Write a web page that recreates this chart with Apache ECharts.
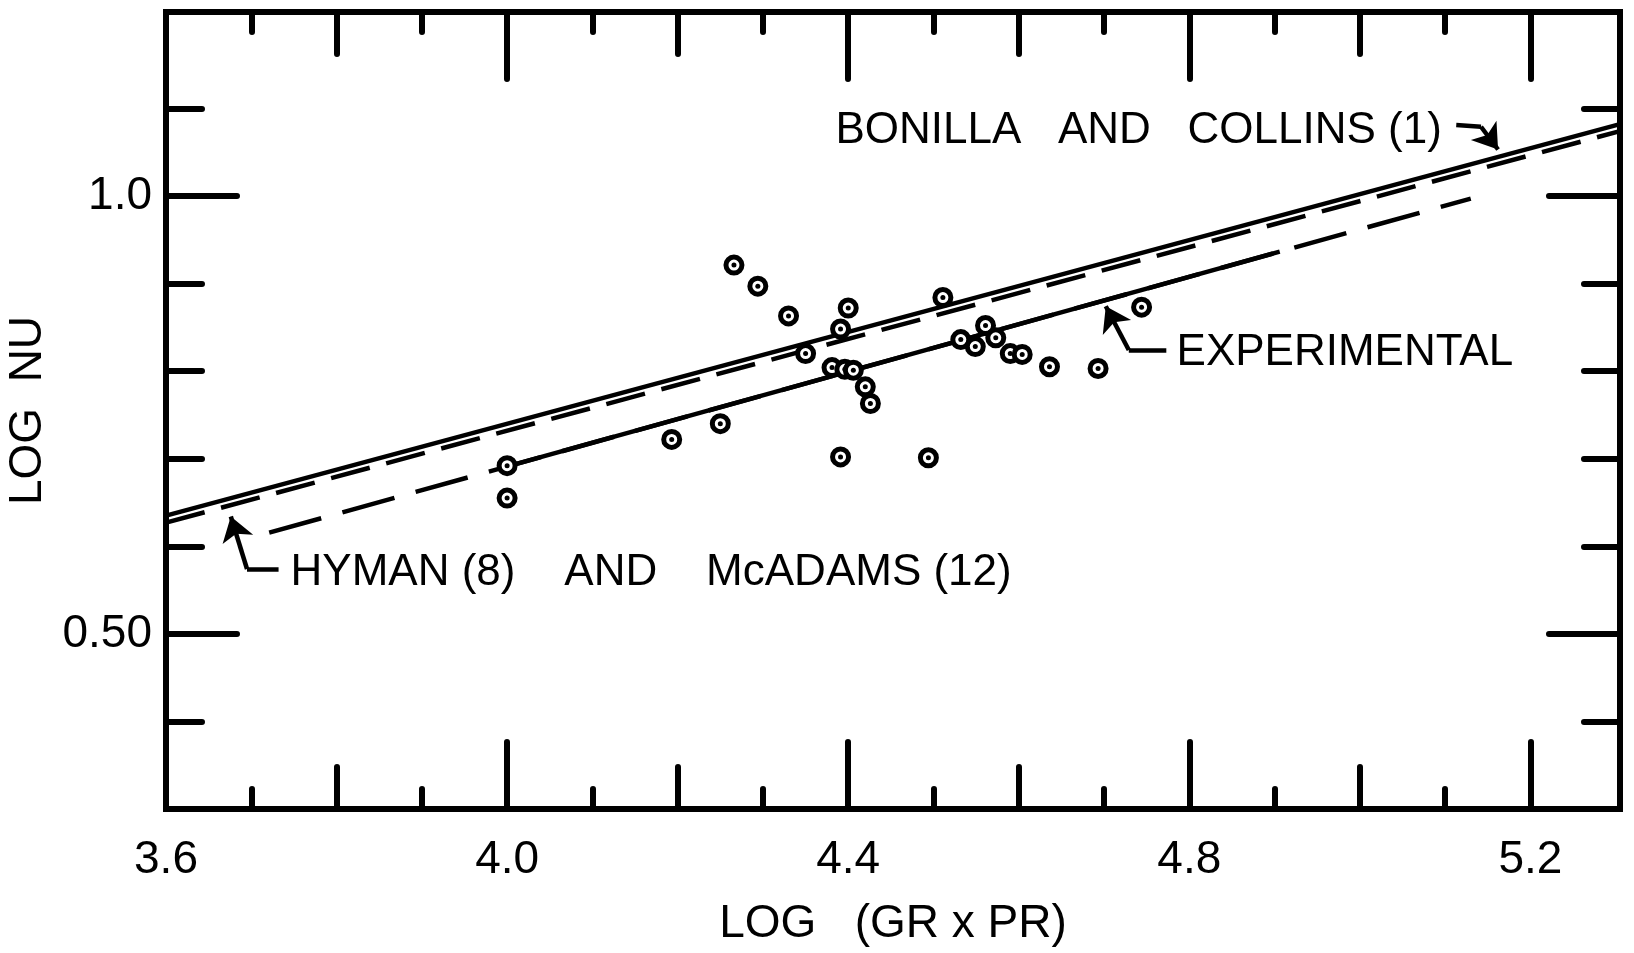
<!DOCTYPE html>
<html>
<head>
<meta charset="utf-8">
<script src="https://cdn.jsdelivr.net/npm/echarts@6/dist/echarts.min.js"></script>
<style>
html,body{margin:0;padding:0;background:#fff;}
#chart{width:1634px;height:953px;}
</style>
</head>
<body>
<div id="chart"></div>
<script>
// ---------- data ----------
const xMin = 3.6, xMax = 5.305;
const yMin = 0.3, yMax = 1.21;

const xLabelValues = [3.6, 4.0, 4.4, 4.8, 5.2];
const xLabelTexts  = ['3.6', '4.0', '4.4', '4.8', '5.2'];
const xLongTicks   = [4.0, 4.4, 4.8, 5.2];
const xMediumTicks = [3.8, 4.2, 4.6, 5.0];
const xShortTicks  = [3.7, 3.9, 4.1, 4.3, 4.5, 4.7, 4.9, 5.1];

const yLabelValues = [0.5, 1.0];
const yLabelTexts  = ['0.50', '1.0'];
const yLongTicks   = [0.5, 1.0];
const yShortTicks  = [0.4, 0.6, 0.7, 0.8, 0.9, 1.1];

const xTitle = 'LOG   (GR x PR)';
const yTitle = 'LOG  NU';

// measured points: [log(Gr*Pr), log Nu]
const experimentalPoints = [
  [4.266,0.921],[4.294,0.897],[4.330,0.863],[4.400,0.872],[4.391,0.848],
  [4.350,0.820],[4.381,0.804],[4.396,0.802],[4.406,0.801],[4.420,0.782],
  [4.426,0.763],[4.391,0.702],[4.494,0.701],[4.511,0.884],[4.532,0.836],
  [4.561,0.852],[4.549,0.828],[4.573,0.838],[4.590,0.820],[4.604,0.819],
  [4.636,0.805],[4.693,0.803],[4.744,0.873],[4.250,0.740],[4.193,0.722],
  [4.000,0.692],[4.000,0.655]
];

// correlation lines (end points)
const bonillaCollins   = [[3.6, 0.635], [5.305, 1.082]];
const hymanMcAdams     = [[3.6, 0.627], [5.305, 1.074]];
const experimentalExt  = [[3.721, 0.6155], [5.13, 0.997]];
const experimentalFit  = [[3.995, 0.6897], [4.906, 0.9364]];

// annotations
const annotationTexts   = ['BONILLA   AND   COLLINS (1)', 'EXPERIMENTAL', 'HYMAN (8)    AND    McADAMS (12)'];
const annotationAnchors = [[4.385, 1.0745], [4.785, 0.821], [3.746, 0.570]];
const arrowPaths = [
  [[5.113, 1.081], [5.142, 1.079], [5.162, 1.053]],
  [[4.773, 0.824], [4.729, 0.824], [4.702, 0.874]],
  [[3.732, 0.574], [3.695, 0.574], [3.676, 0.634]]
];

// ---------- styling ----------
const FONT = 'Liberation Sans';
const INK = '#000';
const tickStyle = {color: INK, width: 6, cap: 'round'};

function xAxisDef(pos, ticks, len, withLine, withLabels) {
  const a = {
    type: 'value', position: pos, min: xMin, max: xMax,
    axisLine: {show: withLine, lineStyle: {color: INK, width: 6, cap: 'square'}},
    axisTick: {show: true, inside: true, length: len, customValues: ticks, lineStyle: tickStyle},
    axisLabel: {show: false},
    splitLine: {show: false}
  };
  if (withLabels) {
    a.axisLabel = {
      show: true, customValues: xLabelValues, margin: 28,
      color: INK, fontSize: 46, fontFamily: FONT,
      formatter: v => xLabelTexts[xLabelValues.findIndex(t => Math.abs(t - v) < 1e-6)]
    };
    a.name = xTitle; a.nameLocation = 'middle'; a.nameGap = 92;
    a.nameTextStyle = {color: INK, fontSize: 46, fontFamily: FONT};
  }
  return a;
}
function yAxisDef(pos, ticks, len, withLine, withLabels) {
  const a = {
    type: 'value', position: pos, min: yMin, max: yMax,
    axisLine: {show: withLine, lineStyle: {color: INK, width: 6, cap: 'square'}},
    axisTick: {show: true, inside: true, length: len, customValues: ticks, lineStyle: tickStyle},
    axisLabel: {show: false},
    splitLine: {show: false}
  };
  if (withLabels) {
    a.axisLabel = {
      show: true, customValues: yLabelValues, margin: 14,
      color: INK, fontSize: 46, fontFamily: FONT,
      formatter: v => yLabelTexts[yLabelValues.findIndex(t => Math.abs(t - v) < 1e-6)]
    };
    a.name = yTitle; a.nameLocation = 'middle'; a.nameGap = 104;
    a.nameTextStyle = {color: INK, fontSize: 46, fontFamily: FONT};
  }
  return a;
}

// arrow segments for markLine
const arrowSegments = [];
arrowPaths.forEach(path => {
  for (let i = 0; i < path.length - 1; i++) {
    const last = i === path.length - 2;
    arrowSegments.push([
      {coord: path[i], symbol: 'none', symbolSize: 1},
      {coord: path[i + 1], symbol: last ? 'arrow' : 'none', symbolSize: 24}
    ]);
  }
});

const chart = echarts.init(document.getElementById('chart'), null, {renderer: 'canvas'});
chart.setOption({
  backgroundColor: '#fff',
  animation: false,
  grid: {left: 166, right: 14, top: 12, bottom: 144, outerBoundsMode: 'none'},
  xAxis: [
    xAxisDef('bottom', xShortTicks, 20, true, false),
    xAxisDef('bottom', xMediumTicks, 42, false, false),
    xAxisDef('bottom', xLongTicks, 67, false, true),
    xAxisDef('top', xShortTicks, 20, true, false),
    xAxisDef('top', xMediumTicks, 42, false, false),
    xAxisDef('top', xLongTicks, 67, false, false)
  ],
  yAxis: [
    yAxisDef('left', yShortTicks, 36, true, false),
    yAxisDef('left', yLongTicks, 71, false, true),
    yAxisDef('right', yShortTicks, 36, true, false),
    yAxisDef('right', yLongTicks, 71, false, false)
  ],
  series: [
    {
      name: 'Bonilla and Collins', type: 'line', data: bonillaCollins,
      symbol: 'none', lineStyle: {color: INK, width: 4.5}, z: 2,
      markLine: {
        silent: true, animation: false, symbol: ['none', 'arrow'], symbolSize: 24,
        label: {show: false},
        lineStyle: {color: INK, width: 4.5, type: 'solid', opacity: 1},
        itemStyle: {color: INK},
        emphasis: {disabled: true},
        data: arrowSegments
      }
    },
    {
      name: 'Hyman and McAdams', type: 'line', data: hymanMcAdams,
      symbol: 'none', lineStyle: {color: INK, width: 4.5, type: [40, 17]}, z: 2
    },
    {
      name: 'Experimental (extrapolated)', type: 'line', data: experimentalExt,
      symbol: 'none', lineStyle: {color: INK, width: 4.5, type: [54, 22]}, z: 2
    },
    {
      name: 'Experimental', type: 'line', data: experimentalFit,
      symbol: 'none', lineStyle: {color: INK, width: 4.5}, z: 2
    },
    {
      name: 'Data rings', type: 'scatter', data: experimentalPoints,
      symbol: 'circle', symbolSize: 16,
      itemStyle: {color: '#fff', borderColor: INK, borderWidth: 5, opacity: 1}, z: 3
    },
    {
      name: 'Data centers', type: 'scatter', data: experimentalPoints,
      symbol: 'circle', symbolSize: 5,
      itemStyle: {color: INK, opacity: 1}, z: 4
    },
    {
      name: 'Annotations', type: 'scatter', data: annotationAnchors,
      symbol: 'circle', symbolSize: 0, itemStyle: {color: INK, opacity: 1},
      label: {
        show: true, position: 'right', distance: 0,
        color: '#000', opacity: 1, textBorderWidth: 0,
        fontSize: 44, fontFamily: FONT,
        formatter: p => annotationTexts[p.dataIndex]
      },
      z: 5, silent: true
    }
  ]
});
</script>
</body>
</html>
